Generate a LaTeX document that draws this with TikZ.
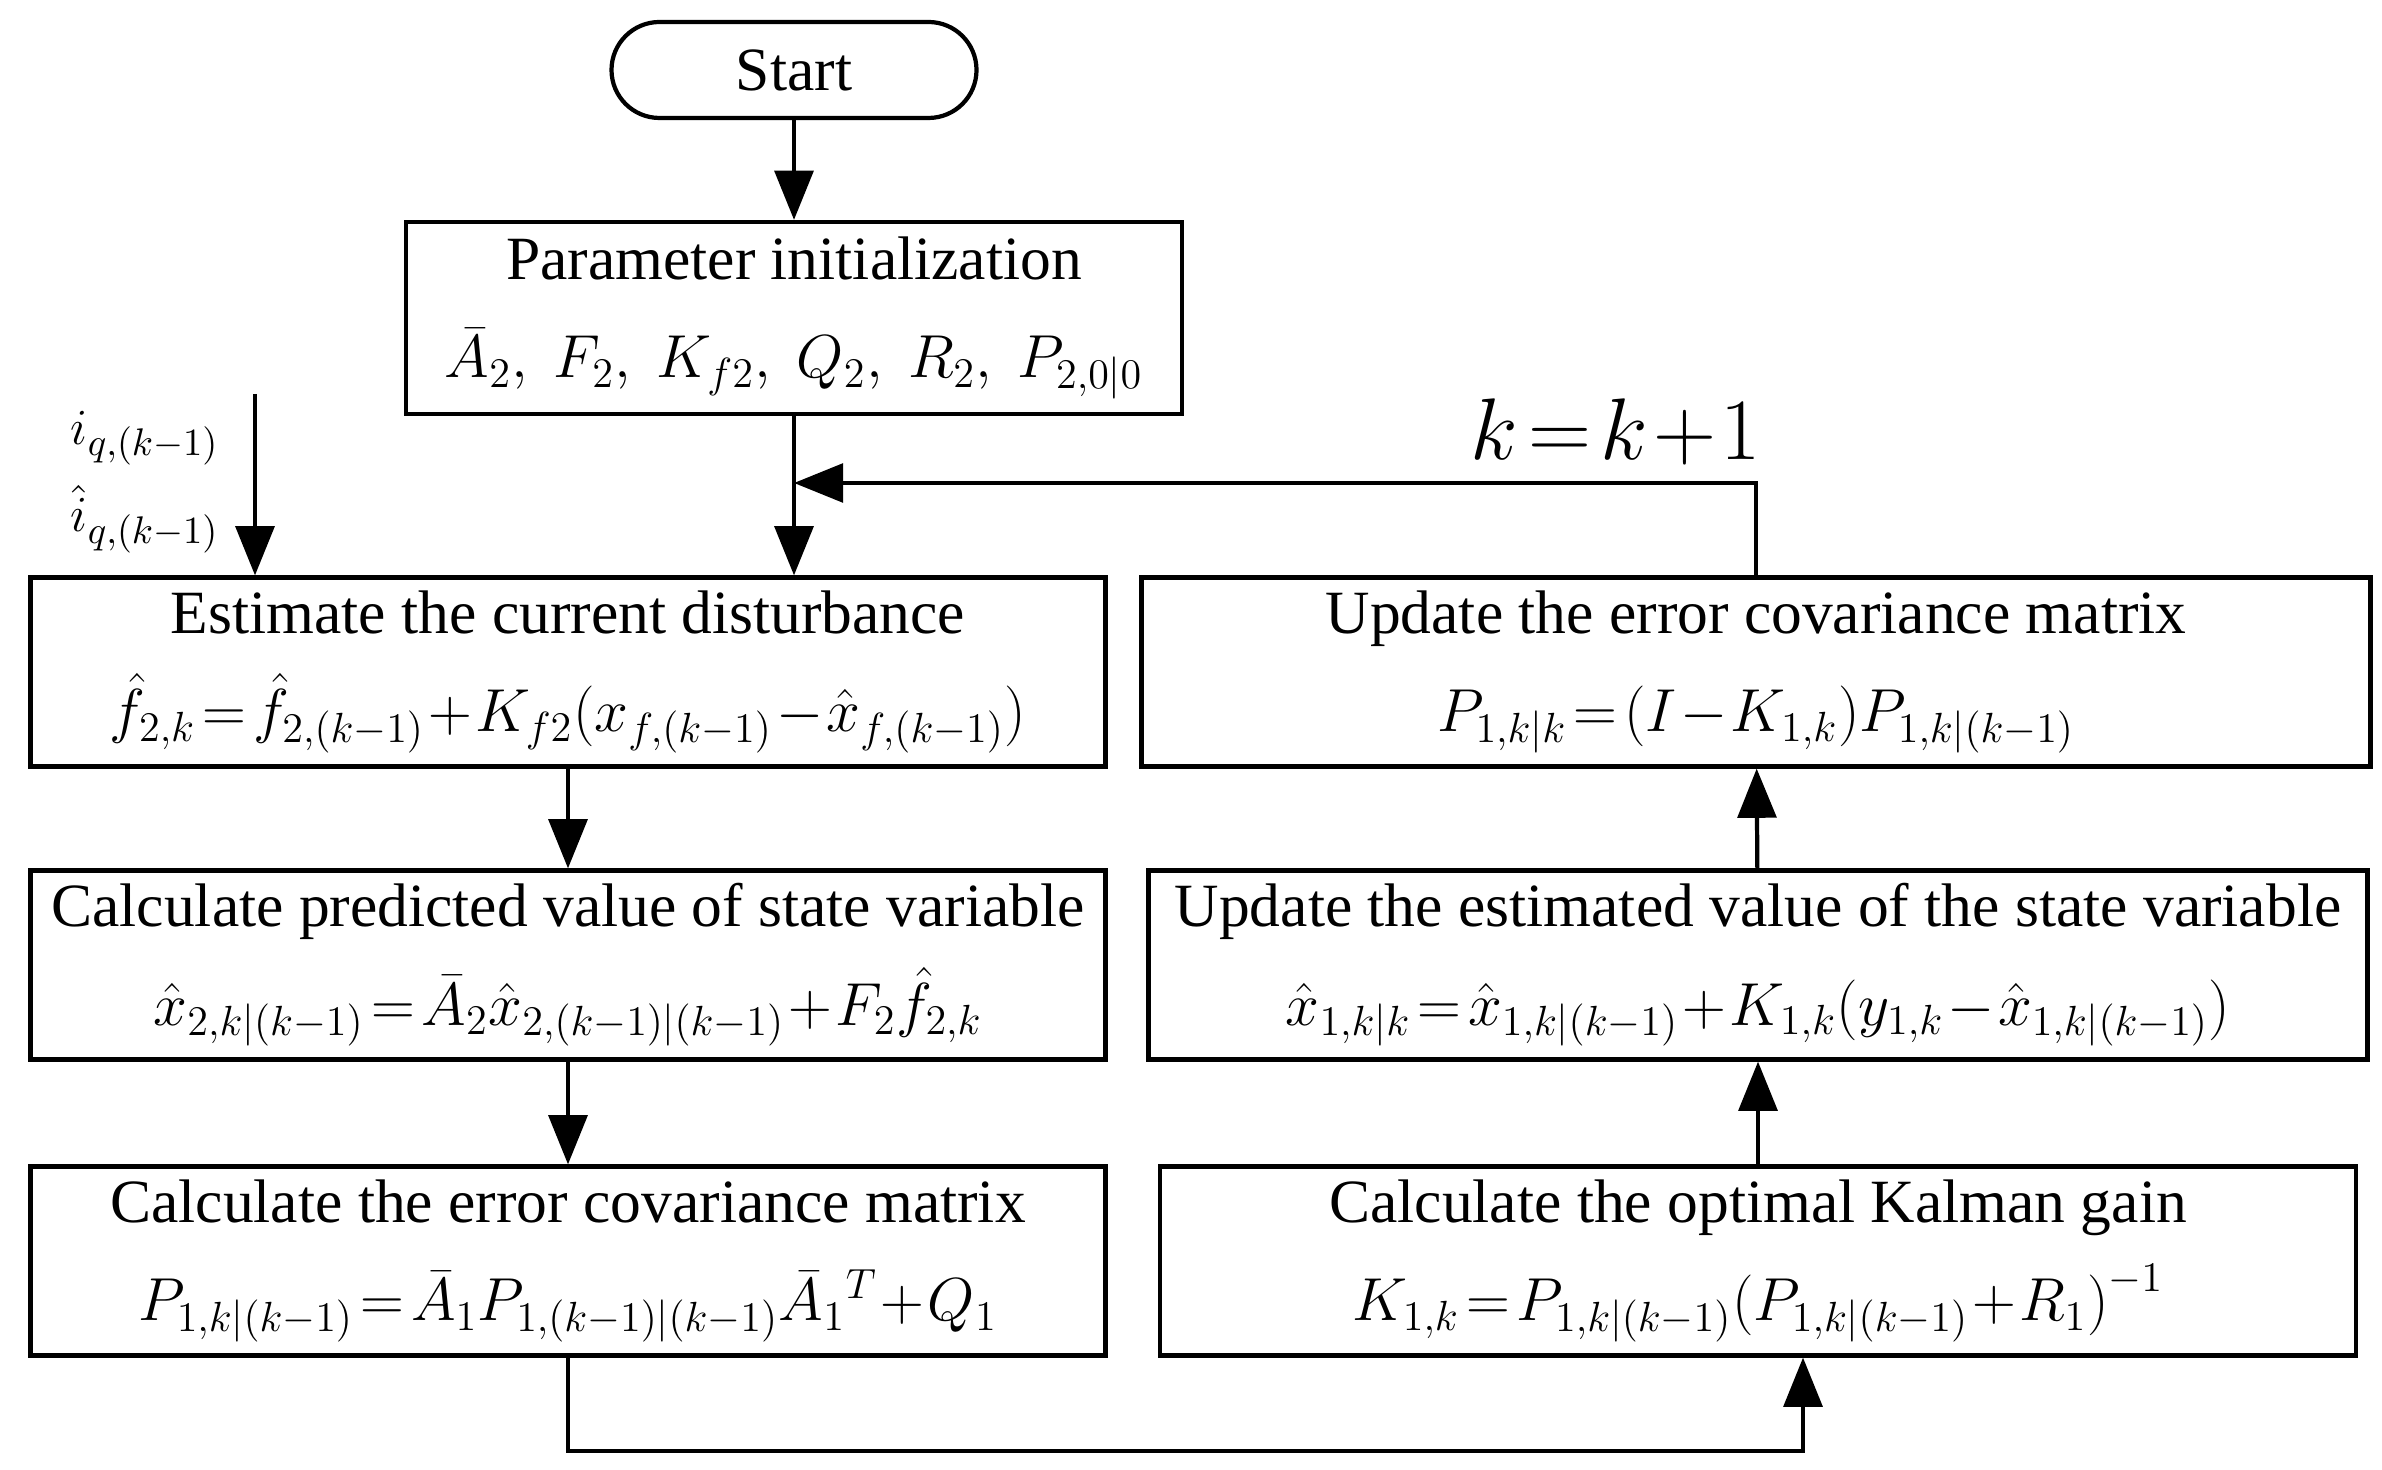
\documentclass[tikz,border=0pt]{standalone}
\usepackage{fontspec}
\setmainfont{Liberation Serif}
\usetikzlibrary{arrows.meta,positioning}
\tikzset{
	box/.style={draw, line width=1.2pt, align=center, inner sep=2pt, font=\fontsize{17.5}{28}\selectfont},
	flow/.style={line width=1.2pt, -{Triangle[length=14pt,width=11pt]}}
}
\begin{document}
\begin{tikzpicture}
		\useasboundingbox (0, 0) rectangle (23.82, 14.69);
		\node[box, rounded corners=0.48cm, minimum width=3.65cm, minimum height=0.96cm] (start) at (7.94, 13.99) {Start};
		\node[box, minimum width=7.76cm, minimum height=1.92cm] (init) at (7.94, 11.51) {Parameter initialization\\ $\bar{A}_2,\ F_2,\ K_{f2},\ Q_2,\ R_2,\ P_{2,0|0}$};
		\node[box, minimum width=10.75cm, minimum height=1.89cm] (est) at (5.68, 7.97) {Estimate the current disturbance\\ $\hat{f}_{2,k}\!=\!\hat{f}_{2,(k-1)}\!+\!K_{f2}(x_{f,(k-1)}\!-\!\hat{x}_{f,(k-1)})$};
		\node[box, minimum width=10.75cm, minimum height=1.89cm] (pred) at (5.68, 5.04) {Calculate predicted value of state variable\\ $\hat{x}_{2,k|(k-1)}\!=\!\bar{A}_2\hat{x}_{2,(k-1)|(k-1)}\!+\!F_2\hat{f}_{2,k}$};
		\node[box, minimum width=10.75cm, minimum height=1.89cm] (cov) at (5.68, 2.08) {Calculate the error covariance matrix\\ $P_{1,k|(k-1)}\!=\!\bar{A}_1P_{1,(k-1)|(k-1)}\bar{A}_1{}^T\!+\!Q_1$};
		\node[box, minimum width=11.96cm, minimum height=1.89cm] (gain) at (17.58, 2.08) {Calculate the optimal Kalman gain\\ $K_{1,k}\!=\!P_{1,k|(k-1)}\bigl(P_{1,k|(k-1)}\!+\!R_1\bigr)^{-1}$};
		\node[box, minimum width=12.19cm, minimum height=1.89cm] (upd) at (17.58, 5.04) {Update the estimated value of the state variable\\ $\hat{x}_{1,k|k}\!=\!\hat{x}_{1,k|(k-1)}\!+\!K_{1,k}\bigl(y_{1,k}\!-\!\hat{x}_{1,k|(k-1)}\bigr)$};
		\node[box, minimum width=12.29cm, minimum height=1.89cm] (updcov) at (17.56, 7.97) {Update the error covariance matrix\\ $P_{1,k|k}\!=\!(I\!-\!K_{1,k})P_{1,k|(k-1)}$};
		\node[font=\fontsize{24}{28}\selectfont] (inc) at (16.16, 10.37) {$k\!=\!k\!+\!1$};
		\node[font=\fontsize{15}{18}\selectfont] (iq) at (1.45, 10.31) {$i_{q,(k-1)}$};
		\node[font=\fontsize{15}{18}\selectfont] (iqhat) at (1.45, 9.50) {$\hat{i}_{q,(k-1)}$};
		\coordinate (in) at (2.55, 10.75);
		\coordinate (join) at (7.94, 9.86);
		\coordinate (low) at (5.68, 0.18);
		\draw[flow] (start) -- (init);
		\draw[flow] (init) -- (est.north -| init);
		\draw[flow] (in) -- (in |- est.north);
		\draw[flow] (est) -- (pred);
		\draw[flow] (pred) -- (cov);
		\draw[flow] (cov) -- (low) -| ([xshift=0.45cm]gain.south);
		\draw[flow] (gain) -- (upd);
		\draw[flow] (upd) -- (updcov);
		\draw[flow] (updcov.north) |- (join);
	\end{tikzpicture}
\end{document}
